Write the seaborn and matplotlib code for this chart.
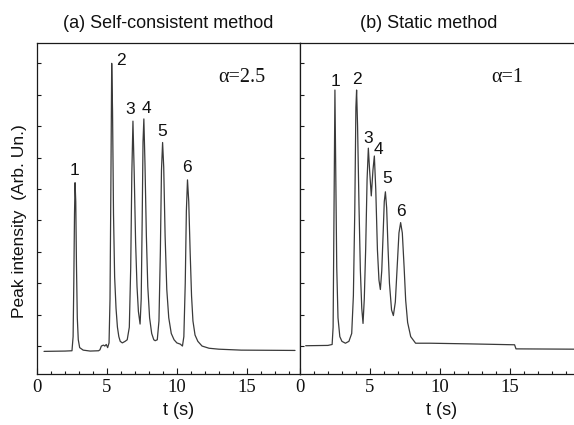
import matplotlib
matplotlib.use("Agg")
import matplotlib.pyplot as plt
from matplotlib.ticker import MultipleLocator, NullFormatter
import seaborn as sns

# (a) self-consistent method, trace
t_a = [0.5, 2.0, 2.50, 2.58, 2.63, 2.68, 2.72, 2.77, 2.82, 2.88, 2.95, 3.05, 3.3, 3.8,
       4.4, 4.5, 4.6, 4.75, 4.85, 4.95, 5.05,
       5.15, 5.22, 5.28, 5.34, 5.40, 5.47, 5.55, 5.65, 5.75, 5.85, 5.95, 6.10, 6.30,
       6.45, 6.60, 6.70, 6.78, 6.86, 6.95, 7.05, 7.15, 7.25, 7.37,
       7.45, 7.52, 7.58, 7.64, 7.72, 7.82, 7.92, 8.05, 8.2, 8.35, 8.45,
       8.60, 8.72, 8.82, 8.90, 8.98, 9.06, 9.16, 9.28, 9.42, 9.6, 9.8, 10.0, 10.25,
       10.40, 10.50, 10.60, 10.68, 10.76, 10.85, 10.95, 11.05, 11.15, 11.3, 11.5,
       11.8, 12.3, 13.0, 14.6, 18.45]
i_a = [-0.17, -0.16, -0.15, 0.3, 2.0, 4.2, 5.2, 4.6, 2.6, 0.9, 0.2, -0.05, -0.13, -0.16,
       -0.15, -0.12, 0.0, 0.03, 0.0, 0.05, -0.05,
       0.1, 1.5, 5.0, 9.0, 7.5, 4.2, 2.2, 1.2, 0.6, 0.3, 0.15, 0.1, 0.15,
       0.2, 0.6, 2.5, 5.5, 7.16, 5.5, 3.3, 1.9, 1.1, 0.7,
       1.5, 4.0, 6.5, 7.23, 5.8, 3.5, 1.9, 0.9, 0.4, 0.2, 0.17,
       0.2, 0.8, 3.0, 5.6, 6.48, 5.7, 3.5, 1.8, 0.9, 0.4, 0.2, 0.1, 0.06,
       0.0, 0.3, 2.0, 4.3, 5.29, 4.6, 3.0, 1.6, 0.8, 0.35, 0.15,
       0.0, -0.07, -0.1, -0.13, -0.14]

# (b) static method
t_b = [0.41, 2.0, 2.30, 2.37, 2.43, 2.50, 2.56, 2.63, 2.72, 2.85, 3.0, 3.25, 3.5,
       3.70, 3.82, 3.92, 4.00, 4.05, 4.12, 4.22, 4.32, 4.42, 4.51,
       4.60, 4.70, 4.80, 4.89, 4.98, 5.10, 5.22, 5.32, 5.42, 5.54, 5.65, 5.75,
       5.85, 5.95, 6.03, 6.11, 6.20, 6.30, 6.40, 6.55, 6.68,
       6.82, 6.95, 7.08, 7.20, 7.32, 7.45, 7.56, 7.70, 7.92, 8.27,
       9.3, 12.0, 15.35, 15.45, 19.7]
i_b = [0.01, 0.02, 0.05, 0.6, 4.0, 8.15, 5.5, 2.5, 0.9, 0.3, 0.15, 0.09, 0.15,
       0.4, 1.6, 4.3, 7.6, 8.15, 7.0, 4.5, 2.4, 1.2, 0.72,
       1.5, 3.1, 5.3, 6.3, 5.6, 4.78, 5.6, 6.05, 5.0, 3.06, 2.1, 1.8,
       2.4, 3.6, 4.6, 4.91, 4.4, 3.1, 2.0, 1.15, 0.97,
       1.4, 2.5, 3.6, 3.93, 3.6, 2.5, 1.46, 0.75, 0.3, 0.09,
       0.09, 0.07, 0.04, -0.09, -0.1]

peak_names = ["1", "2", "3", "4", "5", "6"]
label_t_a = [2.69, 6.02, 6.66, 7.86, 8.98, 10.71]
label_i_a = [5.6, 9.09, 7.52, 7.57, 6.82, 5.67]
label_t_b = [2.56, 4.06, 4.87, 5.61, 6.25, 7.25]
label_i_b = [8.42, 8.47, 6.61, 6.27, 5.34, 4.28]

sns.set_style("ticks")
plt.rcParams["font.family"] = ["Liberation Sans", "DejaVu Sans"]
plt.rcParams["axes.linewidth"] = 0.9
plt.rcParams["axes.edgecolor"] = "#1a1a1a"
plt.rcParams["text.color"] = "#111111"
plt.rcParams["axes.labelcolor"] = "#111111"
plt.rcParams["xtick.labelcolor"] = "#111111"

sans = ["Liberation Sans", "DejaVu Sans"]
serif = ["Liberation Serif", "DejaVu Serif"]
line_col = "#3a3a3a"

fig = plt.figure(figsize=(5.74, 4.25), dpi=100)
ax_a = fig.add_axes([0.0645, 0.12, 0.458, 0.779])
ax_b = fig.add_axes([0.5226, 0.12, 0.4774, 0.779])

panels = [
    (ax_a, t_a, i_a, label_t_a, label_i_a, (0, 18.8), "(a) Self-consistent method", 0.5,
     "\u03b1=2.5", 0.78, 0.54),
    (ax_b, t_b, i_b, label_t_b, label_i_b, (0, 19.6), "(b) Static method", 0.47,
     "\u03b1=1", 0.757, 0.515),
]

for ax, t, inten, lt, li, xlim, title, tx, alpha_txt, ax_x, xl_x in panels:
    sns.lineplot(x=t, y=inten, ax=ax, color=line_col, linewidth=0.9, sort=False)
    ax.set_xlim(*xlim)
    ax.set_ylim(-0.89, 9.65)
    ax.xaxis.set_major_locator(MultipleLocator(5))
    ax.xaxis.set_minor_locator(MultipleLocator(1))
    ax.yaxis.set_major_locator(MultipleLocator(1))
    ax.yaxis.set_major_formatter(NullFormatter())
    ax.tick_params(axis="both", which="both", direction="in", top=False, right=False,
                   color="#1a1a1a", width=0.8)
    ax.tick_params(axis="x", which="major", length=4.5)
    ax.tick_params(axis="x", which="minor", length=2.2)
    ax.tick_params(axis="y", which="major", length=3)
    for lab in ax.get_xticklabels():
        lab.set_family(serif)
        lab.set_fontsize(13.5)
    ax.set_title(title, fontsize=13, x=tx, pad=11, family=sans)
    ax.set_xlabel("t (s)", fontsize=13, family=sans)
    ax.xaxis.set_label_coords(xl_x, -0.085)
    ax.set_ylabel("")
    ax.text(ax_x, 0.897, alpha_txt, transform=ax.transAxes, ha="center", va="center",
            fontsize=14.5, family=serif)
    for name, x, y in zip(peak_names, lt, li):
        ax.text(x, y, name, ha="center", va="center", fontsize=12.5, family=sans)

ax_b.spines["right"].set_visible(False)

ax_a.set_ylabel("Peak intensity  (Arb. Un.)", fontsize=12.5, family=sans)
ax_a.yaxis.set_label_coords(-0.04, 0.462)

fig.savefig("out.png", dpi=100)
